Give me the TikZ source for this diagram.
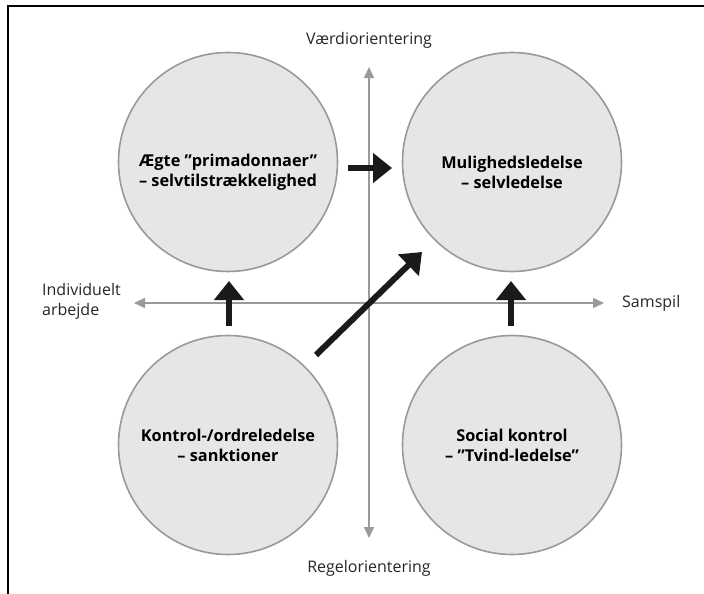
\documentclass[tikz,border=0pt]{standalone}
\usepackage{fontspec}
\setmainfont{Open Sans}
\usetikzlibrary{arrows.meta}
\definecolor{circfill}{HTML}{E6E6E6}
\definecolor{circline}{HTML}{999999}
\definecolor{axisgray}{HTML}{9A9A9A}
\definecolor{arrblack}{HTML}{1A1A1A}
\tikzset{
  quad/.style={circle, draw=circline, line width=1.6pt, fill=circfill, minimum size=219pt, inner sep=0pt},
  qtext/.style={align=center, inner sep=0pt, font=\fontsize{16.3}{20}\selectfont\bfseries},
  axisline/.style={draw=axisgray, line width=1.6pt, -{Triangle[length=11pt,width=10pt]}},
  bigarrow/.style={draw=arrblack, line width=6pt, -{Triangle[length=19pt,width=29pt]}},
  lbl/.style={font=\fontsize{16}{20}\selectfont, text=black!85, inner sep=0pt},
}
\begin{document}
\begin{tikzpicture}[x=1pt,y=-1pt]
\useasboundingbox (0,0) rectangle (704,594);
\draw[line width=2pt] (8,594) -- (8,6) -- (704,6);
% circles
\node[quad] (tl) at (228,162) {};
\node[quad] (tr) at (512,162) {};
\node[quad] (bl) at (228,445) {};
\node[quad] (br) at (512,445) {};
\node[qtext] (tlt) at (228,172) {Ægte ”primadonnaer”\\– selvtilstrækkelighed};
\node[qtext] (trt) at (512,172) {Mulighedsledelse\\– selvledelse};
\node[qtext] (blt) at (228,445) {Kontrol-/ordreledelse\\– sanktioner};
\node[qtext] (brt) at (512,445) {Social kontrol\\– ”Tvind-ledelse”};
% axes
\coordinate (c) at (369,303);
\coordinate (vt) at (369,67);
\coordinate (vb) at (369,538);
\coordinate (hl) at (134,303);
\coordinate (hr) at (604,303);
\draw[axisline] (c) -- (vt);
\draw[axisline] (c) -- (vb);
\draw[axisline] (c) -- (hl);
\draw[axisline] (c) -- (hr);
% labels
\node[lbl] (vlab) at (369,40) {Værdiorientering};
\node[lbl] (rlab) at (369,568) {Regelorientering};
\node[lbl, align=left, anchor=west] (ilab) at (42,301) {Individuelt\\arbejde};
\node[lbl, anchor=west] (slab) at (622,303) {Samspil};
% black arrows
\coordinate (a1s) at (348,168);
\coordinate (a1e) at (392,168);
\draw[bigarrow] (a1s) -- (a1e);
\coordinate (a2s) at (229,326);
\coordinate (a2e) at (229,281);
\draw[bigarrow] (a2s) -- (a2e);
\coordinate (a3s) at (511,326);
\coordinate (a3e) at (511,281);
\draw[bigarrow] (a3s) -- (a3e);
\coordinate (a4s) at (316,355);
\coordinate (a4e) at (422,252);
\draw[bigarrow] (a4s) -- (a4e);
\end{tikzpicture}
\end{document}
